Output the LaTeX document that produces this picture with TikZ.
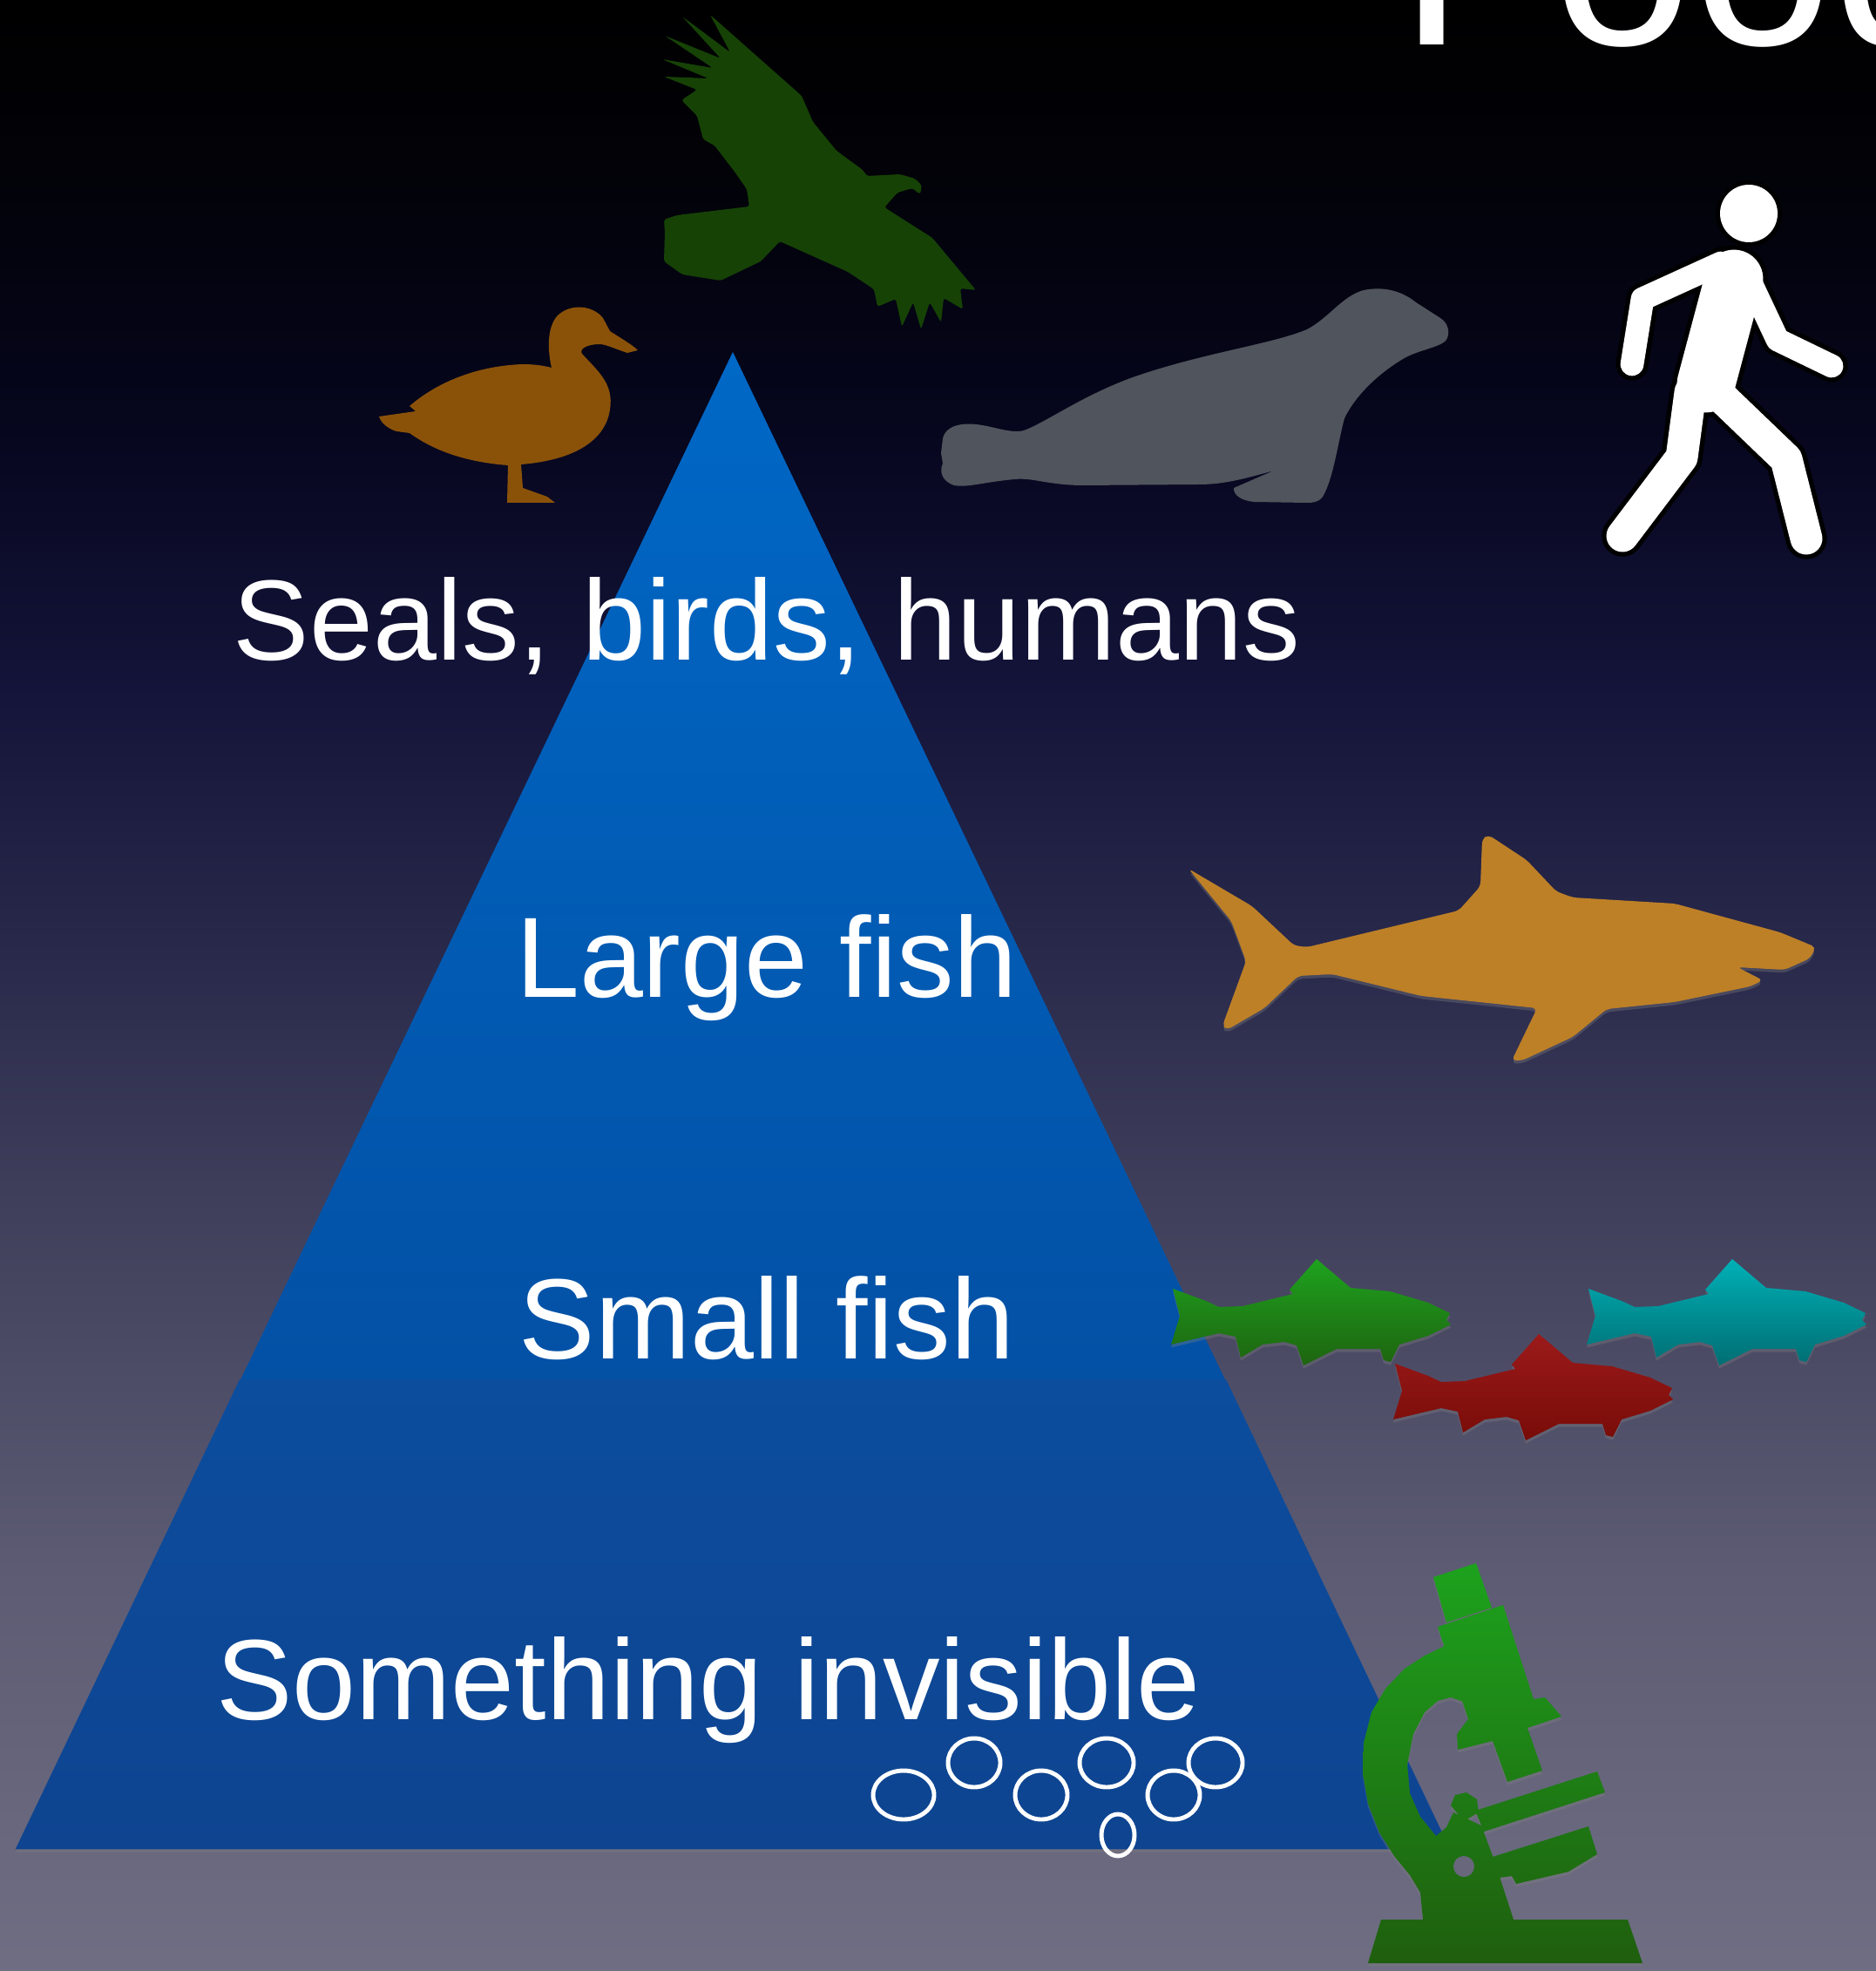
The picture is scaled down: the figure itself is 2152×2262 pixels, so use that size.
\documentclass[tikz,border=0pt]{standalone}
\usepackage{fontspec}
\setmainfont{Liberation Sans}
\usetikzlibrary{shadows}

\definecolor{bgtop}{RGB}{0,0,0}
\definecolor{bgsix}{RGB}{2,2,8}
\definecolor{bgfive}{RGB}{6,6,30}
\definecolor{bgfour}{RGB}{20,20,58}
\definecolor{bgthree}{RGB}{42,42,76}
\definecolor{bgtwo}{RGB}{69,68,95}
\definecolor{bgone}{RGB}{93,92,116}
\definecolor{bgbot}{RGB}{111,110,131}
\definecolor{tritop}{RGB}{0,104,198}
\definecolor{trimid}{RGB}{4,70,150}
\definecolor{bandtop}{RGB}{12,77,158}
\definecolor{tribot}{RGB}{14,68,144}
\definecolor{eaglegreen}{RGB}{22,66,6}
\definecolor{duckbrown}{RGB}{138,82,9}
\definecolor{sealgray}{RGB}{80,84,92}
\definecolor{sharkorange}{RGB}{189,128,39}
\definecolor{greenA}{RGB}{30,162,30}
\definecolor{greenB}{RGB}{30,100,16}
\definecolor{redA}{RGB}{155,26,26}
\definecolor{redB}{RGB}{120,12,8}
\definecolor{cyanA}{RGB}{0,176,182}
\definecolor{cyanB}{RGB}{0,110,115}
\definecolor{scopeA}{RGB}{29,162,29}
\definecolor{scopeB}{RGB}{31,94,14}
\definecolor{holegray}{RGB}{104,103,124}

% sky to sea floor
\pgfdeclareverticalshading{seabg}{100bp}{color(0bp)=(bgbot); color(25bp)=(bgbot);
  color(35bp)=(bgone); color(43bp)=(bgtwo); color(50.5bp)=(bgthree);
  color(57.5bp)=(bgfour); color(64bp)=(bgfive); color(70.5bp)=(bgsix);
  color(75bp)=(bgtop); color(100bp)=(bgtop)}

\tikzset{
  softshadow/.style={drop shadow={shadow xshift=0pt, shadow yshift=-1pt, opacity=.35}},
  tierlabel/.style={text=white, inner sep=0pt, anchor=base,
    font=\fontsize{37.3pt}{44pt}\selectfont},
  pics/minnow/.style 2 args={code={
    \shade[top color=#1, bottom color=#2, softshadow]
      (2,34) -- (40,48) -- (55,55) -- (82,54) -- (140,40) -- (136,35) -- (167,0)
      -- (206,33) -- (251,37) -- (295,50) -- (320,62) -- (316,70) -- (321,75)
      -- (295,88) -- (262,98) -- (252,118) -- (244,116) -- (240,103) -- (190,103)
      -- (152,122) -- (144,99) -- (130,95) -- (105,98) -- (80,113) -- (74,89)
      -- (55,85) -- (0,98) -- (10,65) -- cycle;
  }}
}

\begin{document}
\begin{tikzpicture}[x=0.1mm, y=-0.1mm]
\useasboundingbox (0,0) rectangle (2152,2262);
\clip (-10,-10) rectangle (2162,2272);

% Background
\shade[shading=seabg] (-10,-10) rectangle (2162,2272);

% Pyramid
\shade[top color=tritop, bottom color=trimid, softshadow]
  (841,404) -- (1664,2122) -- (18,2122) -- cycle;
\shade[top color=bandtop, bottom color=tribot]
  (275,1583) -- (1407,1583) -- (1664,2122) -- (18,2122) -- cycle;

% Title
\node[text=white, inner sep=0pt, anchor=base west,
  font=\fontsize{82pt}{96pt}\selectfont] (title) at (1606,52) {Food};

% Tier labels
\node[tierlabel] (seals) at (880,757) {Seals, birds, humans};
\node[tierlabel] (large) at (880,1144) {Large fish};
\node[tierlabel] (small) at (880,1559) {Small fish};
\node[tierlabel] (invisible) at (813,1973) {Something invisible};

% Plankton bubbles
\begin{scope}[white, line width=1.4pt]
\draw (1037,2060) ellipse [x radius=35, y radius=28];
\draw (1118,2023) ellipse [x radius=30, y radius=28];
\draw (1195,2060) ellipse [x radius=30, y radius=28];
\draw (1270,2023) ellipse [x radius=31, y radius=28];
\draw (1347,2060) ellipse [x radius=30, y radius=28];
\draw (1395,2023) ellipse [x radius=31, y radius=28];
\draw (1283,2106) ellipse [x radius=19, y radius=24];
\end{scope}

% Eagle
\fill[eaglegreen, rounded corners=0.8pt]
  (815,17) -- (920,110) -- (933,140) -- (960,173) -- (990,195) -- (995,202)
  -- (1033,200) -- (1050,205) -- (1058,213) -- (1056,223) -- (1047,216)
  -- (1030,221) -- (1015,238) -- (1070,273) -- (1120,333) -- (1102,331)
  -- (1105,355) -- (1083,342) -- (1080,370) -- (1067,347) -- (1057,378)
  -- (1048,347) -- (1035,375) -- (1028,343) -- (1007,352) -- (1003,332)
  -- (973,312) -- (895,277) -- (873,300) -- (827,322) -- (783,315)
  -- (762,300) -- (763,267) -- (762,252) -- (777,247) -- (860,237)
  -- (857,217) -- (843,197) -- (820,167) -- (807,160) -- (800,133)
  -- (782,115) -- (800,103) -- (762,88) -- (813,90) -- (760,68) -- (818,78)
  -- (763,41) -- (827,67) -- (783,19) -- (838,60) -- cycle;

% Duck
\fill[duckbrown]
  (435,478) -- (477,472) -- (470,466) .. controls (500,440) and (545,420) .. (600,418)
  .. controls (615,418) and (625,420) .. (633,422)
  .. controls (628,400) and (628,375) .. (640,362)
  .. controls (655,348) and (680,350) .. (692,365) -- (700,380)
  .. controls (712,388) and (725,395) .. (732,402) -- (720,405)
  .. controls (705,400) and (695,395) .. (688,395)
  .. controls (675,395) and (664,400) .. (668,406)
  .. controls (685,425) and (705,440) .. (700,470)
  .. controls (695,505) and (660,528) .. (598,533) -- (600,560) -- (628,570)
  -- (637,577) -- (582,577) -- (583,534)
  .. controls (530,530) and (495,515) .. (470,497) -- (455,495)
  .. controls (445,492) and (437,485) .. (435,478) -- cycle;

% Seal
\fill[sealgray]
  (1082,503) .. controls (1085,490) and (1100,485) .. (1120,487)
  .. controls (1140,489) and (1160,498) .. (1175,494)
  .. controls (1200,485) and (1240,455) .. (1300,433)
  .. controls (1380,405) and (1460,395) .. (1500,378)
  .. controls (1525,365) and (1540,340) .. (1565,333)
  .. controls (1590,328) and (1610,335) .. (1625,347) -- (1653,365)
  .. controls (1665,372) and (1665,390) .. (1655,394)
  .. controls (1645,400) and (1625,403) .. (1610,412)
  .. controls (1580,430) and (1555,455) .. (1543,480)
  .. controls (1535,510) and (1530,550) .. (1518,570)
  .. controls (1513,577) and (1505,577) .. (1500,577) -- (1440,576)
  .. controls (1425,575) and (1415,568) .. (1416,560) -- (1462,540)
  .. controls (1420,552) and (1400,556) .. (1375,556) -- (1239,557)
  .. controls (1200,556) and (1185,548) .. (1165,550)
  .. controls (1130,553) and (1110,560) .. (1095,557)
  .. controls (1080,552) and (1078,540) .. (1082,532) -- (1080,520) -- cycle;

% Walking human
\begin{scope}[line cap=round, line join=round]
\foreach \ink/\extra in {black/3, white/0} {
  \fill[\ink] (2007,245) circle (33+\extra*1.7);
  \draw[\ink, line width=(7.6+\extra)*1pt] (1975,302) -- (1885,343) -- (1873,418);
  \draw[\ink, line width=(7.6+\extra)*1pt] (2000,305) -- (2040,390) -- (2102,420);
  \draw[\ink, line width=(19+\extra)*1pt] (1990,320) -- (1958,440);
  \draw[\ink, line width=(10.5+\extra)*1pt] (1940,450) -- (1930,525) -- (1862,615);
  \draw[\ink, line width=(10.5+\extra)*1pt] (1975,455) -- (2050,527) -- (2073,618);
}
\end{scope}

% Shark
\fill[sharkorange, rounded corners=1.5pt, softshadow]
  (1364,997) -- (1437,1040) -- (1485,1085) -- (1500,1087) -- (1674,1045)
  -- (1699,1017) -- (1701,963) -- (1708,958) -- (1752,987) -- (1786,1023)
  -- (1805,1030) -- (1922,1037) -- (2043,1070) -- (2084,1087) -- (2077,1100)
  -- (2048,1113) -- (1994,1110) -- (2023,1125) -- (2009,1132) -- (1922,1150)
  -- (1844,1158) -- (1805,1190) -- (1747,1217) -- (1735,1217) -- (1764,1157)
  -- (1631,1143) -- (1529,1118) -- (1490,1120) -- (1451,1157) -- (1408,1182)
  -- (1403,1177) -- (1430,1103) -- (1413,1057) -- cycle;

% Small fish
\pic at (1344,1445) {minnow={greenA}{greenB}};
\pic at (1599,1531) {minnow={redA}{redB}};
\pic at (1821,1445) {minnow={cyanA}{cyanB}};

% Microscope
\shade[top color=scopeA, bottom color=scopeB, softshadow]
  % eyepiece
  (1645,1810) -- (1694,1794) -- (1712,1845) -- (1660,1862) -- cycle
  % body tube
  (1650,1867) -- (1725,1842) -- (1760,1950) -- (1773,1948) -- (1792,1970)
  -- (1753,1983) -- (1770,2032) -- (1730,2045) -- (1713,1998) -- (1673,2008)
  -- (1672,1990) -- (1685,1973) -- cycle
  % arm and pillar
  (1680,1878) -- (1690,1965) -- (1680,1953) -- (1665,1948) -- (1650,1952)
  -- (1635,1965) -- (1622,1990) -- (1615,2025) -- (1618,2058) -- (1630,2085)
  -- (1648,2107) -- (1660,2097) -- (1668,2080) -- (1700,2095) -- (1713,2130)
  -- (1722,2157) -- (1737,2203) -- (1633,2203) -- (1630,2172) -- (1618,2152)
  -- (1600,2130) -- (1583,2103) -- (1570,2070) -- (1564,2035) -- (1565,2000)
  -- (1574,1965) -- (1590,1938) -- (1612,1915) -- (1635,1900) -- (1660,1888) -- cycle
  % focus knob
  (1665,2072) -- (1670,2060) -- (1683,2057) -- (1695,2065) -- (1697,2080)
  -- (1680,2090) -- cycle
  % stage
  (1693,2078) -- (1833,2033) -- (1842,2057) -- (1703,2102) -- cycle
  % mirror
  (1713,2131) -- (1823,2096) -- (1833,2128) -- (1800,2148) -- (1740,2162)
  -- (1735,2153) -- (1720,2155) -- cycle
  % base
  (1585,2203) -- (1868,2203) -- (1885,2253) -- (1570,2253) -- cycle;
\fill[holegray] (1680,2142) circle (12);

\end{tikzpicture}
\end{document}
